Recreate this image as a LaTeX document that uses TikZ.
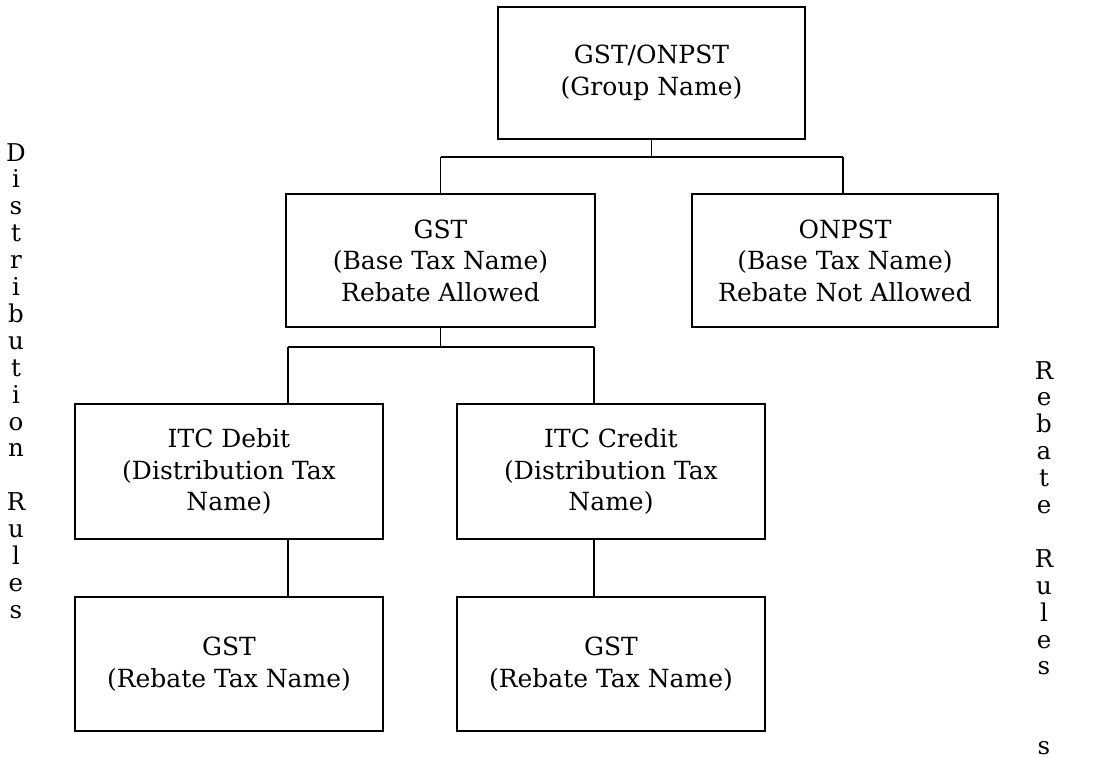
\documentclass[tikz,border=0pt]{standalone}
\usepackage{fontspec}
\setmainfont{DejaVu Serif}
\begin{document}
\begin{tikzpicture}[x=1pt,y=-1pt,
  box/.style={draw,line width=1.6pt,inner sep=0pt,align=center,
    font=\fontsize{25}{31.5}\selectfont},
  vtext/.style={inner sep=0pt,align=center,anchor=north,
    font=\fontsize{24.5}{26.9}\selectfont},
  conn/.style={line width=1.6pt}]
\useasboundingbox (0,0) rectangle (1093,756);
% boxes
\node[box,minimum width=307pt,minimum height=132pt] (top) at (651.5,73) {GST/ONPST\\(Group Name)};
\node[box,minimum width=309pt,minimum height=133pt] (gst) at (440.5,260.5) {GST\\(Base Tax Name)\\Rebate Allowed};
\node[box,minimum width=306pt,minimum height=133pt] (onpst) at (845,260.5) {ONPST\\(Base Tax Name)\\Rebate Not Allowed};
\node[box,minimum width=308pt,minimum height=135pt] (itcd) at (229,471.5) {ITC Debit\\(Distribution Tax\\Name)};
\node[box,minimum width=308pt,minimum height=135pt] (itcc) at (611,471.5) {ITC Credit\\(Distribution Tax\\Name)};
\node[box,minimum width=308pt,minimum height=134pt] (r1) at (229,664) {GST\\(Rebate Tax Name)};
\node[box,minimum width=308pt,minimum height=134pt] (r2) at (611,664) {GST\\(Rebate Tax Name)};
% bus coordinates
\coordinate (b1) at (651.5,157);
\coordinate (b1l) at (440.5,157);
\coordinate (b1r) at (843,157);
\coordinate (b2) at (440.5,347);
\coordinate (b2l) at (288,347);
\coordinate (b2r) at (594,347);
% connectors
\draw[conn] (top.south) -- (b1);
\draw[conn] (b1l) -- (b1r);
\draw[conn] (b1l) -- (b1l |- gst.north);
\draw[conn] (b1r) -- (b1r |- onpst.north);
\draw[conn] (gst.south) -- (b2);
\draw[conn] (b2l) -- (b2r);
\draw[conn] (b2l) -- (b2l |- itcd.north);
\draw[conn] (b2r) -- (b2r |- itcc.north);
\draw[conn] (b2l |- itcd.south) -- (b2l |- r1.north);
\draw[conn] (b2r |- itcc.south) -- (b2r |- r2.north);
% vertical texts
\node[vtext] (lefttxt) at (16,143) {D\\i\\s\\t\\r\\i\\b\\u\\t\\i\\o\\n\\~\\R\\u\\l\\e\\s};
\node[vtext] (righttxt) at (1044,361) {R\\e\\b\\a\\t\\e\\~\\R\\u\\l\\e\\s};
\node[vtext] (rightextra) at (1044,741) {s};
\end{tikzpicture}
\end{document}
